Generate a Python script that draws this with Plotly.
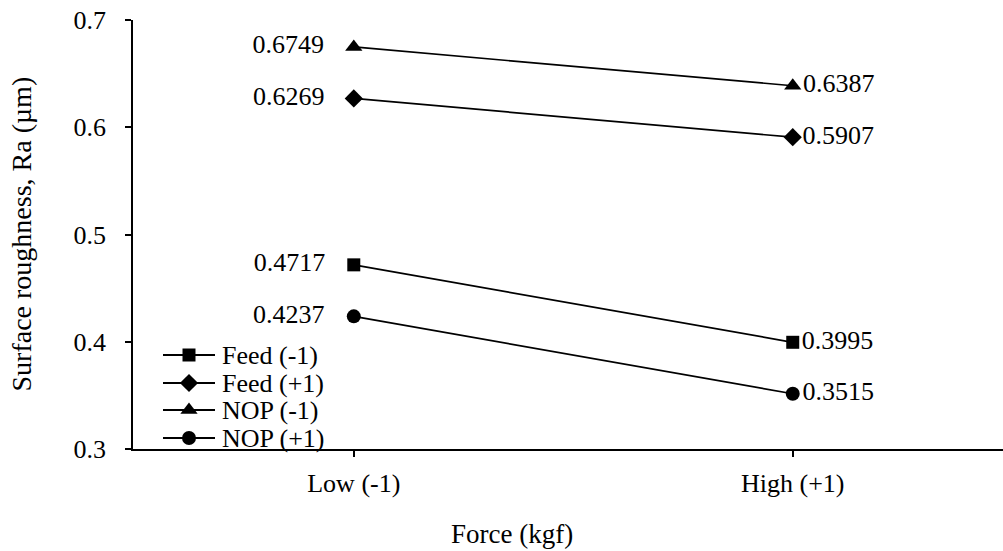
import plotly.graph_objects as go

# ---- data ----
force_levels = ["Low (-1)", "High (+1)"]
force_codes = [0, 1]
series_names = ["Feed (-1)", "Feed (+1)", "NOP (-1)", "NOP (+1)"]
feed_minus = [0.4717, 0.3995]
feed_plus = [0.6269, 0.5907]
nop_minus = [0.6749, 0.6387]
nop_plus = [0.4237, 0.3515]
y_ticks = [0.3, 0.4, 0.5, 0.6, 0.7]

series_values = [feed_minus, feed_plus, nop_minus, nop_plus]
symbols = ["square", "diamond", "triangle-up", "circle"]
marker_sizes = [13, 14, 15, 14]

FONT = "Times New Roman, Liberation Serif, serif"
NB = "\u00a0"

fig = go.Figure()

for name, vals, sym, ms in zip(series_names, series_values, symbols, marker_sizes):
    labels = [f"{vals[0]:.4f}" + NB * 3, f"{vals[1]:.4f}"]
    fig.add_trace(go.Scatter(
        x=force_codes, y=vals, name=name, mode="lines+markers+text",
        line=dict(color="black", width=1.7),
        marker=dict(symbol=sym, size=ms, color="black"),
        text=labels, textposition=["middle left", "middle right"],
        textfont=dict(family=FONT, size=26, color="black"),
        showlegend=False, cliponaxis=False,
    ))

# ---- custom legend drawn on a pixel-scaled overlay axis ----
L_LEFT, L_RIGHT, L_MID, L_TEXT = 163, 215, 189, 220
row_y = [355, 383, 410, 438]
for name, sym, ms, ry in zip(series_names, symbols, marker_sizes, row_y):
    fig.add_trace(go.Scatter(
        x=[L_LEFT, L_MID, L_RIGHT], y=[ry, ry, ry], xaxis="x2", yaxis="y2",
        mode="lines", line=dict(color="black", width=2),
        showlegend=False, hoverinfo="skip", cliponaxis=False,
    ))
    fig.add_trace(go.Scatter(
        x=[L_MID], y=[ry], xaxis="x2", yaxis="y2",
        mode="markers", marker=dict(symbol=sym, size=ms, color="black"),
        showlegend=False, hoverinfo="skip", cliponaxis=False,
    ))
    fig.add_annotation(x=L_TEXT, y=ry, xref="x2", yref="y2", text=name,
                       showarrow=False, xanchor="left", yanchor="middle",
                       font=dict(family=FONT, size=26, color="black"))

ML, MR, MT, MB = 133, 0, 20, 102
W, H = 1003, 551

fig.update_layout(
    width=W, height=H,
    margin=dict(l=ML, r=MR, t=MT, b=MB),
    paper_bgcolor="white", plot_bgcolor="white",
    font=dict(family=FONT, size=26, color="black"),
    showlegend=False,
    xaxis=dict(
        range=[-0.503, 1.479], tickvals=force_codes, ticktext=force_levels,
        showgrid=False, zeroline=False, showline=True, linecolor="black",
        linewidth=2.2, ticks="outside", ticklen=6, tickwidth=1.5,
        tickcolor="black", tickfont=dict(family=FONT, size=26),
        ticklabelstandoff=4,
    ),
    yaxis=dict(
        range=[0.3, 0.7], tickvals=y_ticks, ticktext=[f"{v:.1f}" for v in y_ticks],
        showgrid=False, zeroline=False, showline=True, linecolor="black",
        linewidth=1.5, ticks="outside", ticklen=6, tickwidth=1.5,
        tickcolor="black", tickfont=dict(family=FONT, size=26),
        ticklabelstandoff=14,
    ),
    xaxis2=dict(range=[ML, W - MR], domain=[0, 1], anchor="y2", overlaying="x",
                visible=False),
    yaxis2=dict(range=[H - MB, MT], domain=[0, 1], anchor="x2", overlaying="y",
                visible=False),
)

plot_w = W - ML - MR
plot_h = H - MT - MB
fig.add_annotation(text="Surface roughness, Ra (µm)", textangle=-90,
                   xref="paper", yref="paper",
                   x=(21 - ML) / plot_w, y=0.5, showarrow=False,
                   xanchor="center", yanchor="middle",
                   font=dict(family=FONT, size=28, color="black"))
fig.add_annotation(text="Force (kgf)", xref="paper", yref="paper",
                   x=(512 - ML) / plot_w, y=((H - MB) - 534) / plot_h,
                   showarrow=False, xanchor="center", yanchor="middle",
                   font=dict(family=FONT, size=27, color="black"))

fig.write_html(
    "out.html",
    config={"displayModeBar": False},
    post_script="document.body.style.margin='0';document.body.style.overflow='hidden';",
)
